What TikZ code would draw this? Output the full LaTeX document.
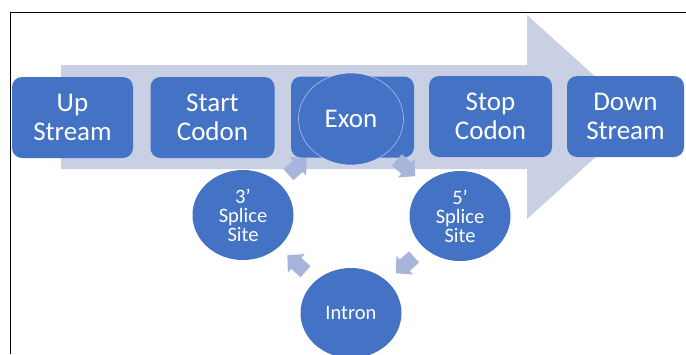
\documentclass[tikz,border=0pt]{standalone}
\usepackage{fontspec}
\setmainfont{Carlito}
\usetikzlibrary{shapes.geometric,calc}
\definecolor{boxblue}{RGB}{68,114,196}
\definecolor{flowback}{RGB}{201,208,228}
\definecolor{cyclearr}{RGB}{168,181,219}
\tikzset{
  pics/cyclearrow/.style={code={
    \fill[cyclearr] (-11.5,-7.5) -- (1,-7.5) -- (1,-12.5) -- (13,0)
                    -- (1,12.5) -- (1,7.5) -- (-11.5,7.5) -- cycle;}}
}
\begin{document}
\begin{tikzpicture}[x=1pt,y=-1pt,
  stage/.style={fill=boxblue, rounded corners=10pt, text=white, align=center,
                font=\fontsize{27}{28.5}\selectfont, inner sep=0pt,
                minimum height=81pt},
  site/.style={ellipse, fill=boxblue, text=white, align=center,
               font=\fontsize{20.5}{19}\selectfont, inner sep=0pt,
               minimum width=101pt, minimum height=90pt},
]
\useasboundingbox (0,0) rectangle (686,354);
\fill[white] (0,0) rectangle (686,354);
\draw[line width=1pt] (10,354) -- (10,12) -- (686,12);

% wide flow arrow behind the stages
\fill[flowback] (61,65) -- (527,65) -- (527,15) -- (640,117)
                -- (527,219) -- (527,169) -- (61,169) -- cycle;

% gene stages
\node[stage, minimum width=121pt] (up)    at (72.5,117.5) {Up\\Stream};
\node[stage, minimum width=124pt] (start) at (212.5,117.5) {Start\\Codon};
\node[stage, minimum width=123pt] (exbox) at (352.5,117) {};
\node[stage, minimum width=123pt] (stop)  at (490.5,116.5) {Stop\\Codon};
\node[stage, minimum width=117pt] (down)  at (625.5,116.5) {Down\\Stream};

% splicing cycle
\node[site, minimum width=105pt, minimum height=92pt,
      draw=white, draw opacity=0.55, line width=0.6pt,
      font=\fontsize{27}{28.5}\selectfont] (exon) at (351,119) {Exon};
\node[site] (five)   at (460,216) {5’\\Splice\\Site};
\node[site] (intron) at (351,313) {Intron};
\node[site] (three)  at (243,215) {3’\\Splice\\Site};

\pic[rotate=-41.7] at ($(exon)!0.5!(five)$) {cyclearrow};
\pic[rotate=-138.3] at ($(five)!0.5!(intron)$) {cyclearrow};
\pic[rotate=137.8] at ($(intron)!0.5!(three)$) {cyclearrow};
\pic[rotate=41.6] at ($(three)!0.5!(exon)$) {cyclearrow};
\end{tikzpicture}
\end{document}
